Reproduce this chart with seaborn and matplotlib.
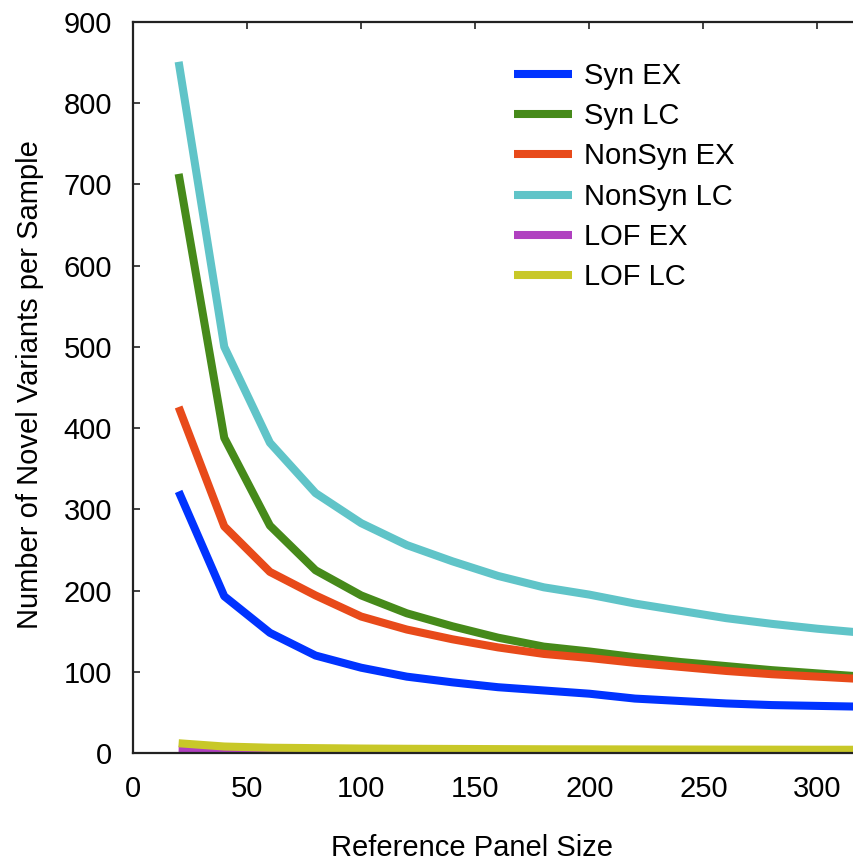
import numpy as np
import pandas as pd
import matplotlib
matplotlib.use("Agg")
import matplotlib.pyplot as plt
import seaborn as sns

panel_size = [20, 40, 60, 80, 100, 120, 140, 160, 180, 200, 220, 240, 260, 280, 300, 320]
syn_ex = [322, 193, 148, 120, 105, 94, 87, 81, 77, 73, 67, 64, 61, 59, 58, 57]
syn_lc = [713, 388, 280, 225, 194, 172, 156, 142, 131, 125, 118, 112, 107, 102, 98, 94]
nonsyn_ex = [426, 279, 223, 194, 168, 152, 140, 130, 122, 117, 111, 106, 101, 97, 94, 91]
nonsyn_lc = [851, 500, 382, 320, 283, 256, 236, 218, 204, 195, 184, 175, 166, 159, 153, 148]
lof_ex = [4, 2.5, 1.8, 1.5, 1.3, 1.2, 1.1, 1.0, 1.0, 1.0, 1.0, 1.0, 1.0, 1.0, 1.0, 1.0]
lof_lc = [12, 8, 6.5, 6, 5.5, 5.2, 5, 4.8, 4.6, 4.5, 4.4, 4.3, 4.2, 4.1, 4.0, 4.0]

series_names = ["Syn EX", "Syn LC", "NonSyn EX", "NonSyn LC", "LOF EX", "LOF LC"]
series_values = [syn_ex, syn_lc, nonsyn_ex, nonsyn_lc, lof_ex, lof_lc]
colors = ["#0033FF", "#468A1A", "#E84A1A", "#60C4C8", "#B040C0", "#C8C828"]

x_ticks = [0, 50, 100, 150, 200, 250, 300]
y_ticks = [0, 100, 200, 300, 400, 500, 600, 700, 800, 900]

rows = []
for name, vals in zip(series_names, series_values):
    for xv, yv in zip(panel_size, vals):
        rows.append({"size": xv, "value": yv, "series": name})
df = pd.DataFrame(rows)

sns.set_style("white")
plt.rcParams["font.family"] = ["Liberation Sans", "DejaVu Sans"]
plt.rcParams["text.color"] = "black"
plt.rcParams["axes.labelcolor"] = "black"
plt.rcParams["xtick.color"] = "black"
plt.rcParams["ytick.color"] = "black"

W, H = 854, 864
fig = plt.figure(figsize=(W / 100, H / 100), dpi=100)
ax = fig.add_axes([133 / W, 1 - 753 / H, (W - 133) / W, (753 - 22) / H])

sns.lineplot(data=df, x="size", y="value", hue="series", hue_order=series_names,
             palette=colors, linewidth=5.8, ax=ax, sort=False, estimator=None,
             legend=True, solid_capstyle="butt")

ax.set_xlim(0, 316)
ax.set_ylim(0, 900)
ax.set_xticks(x_ticks)
ax.set_yticks(y_ticks)
fs = 21
ax.tick_params(axis="both", direction="in", length=5, width=1.2, color="#222222",
               labelsize=fs, labelcolor="black", top=True, bottom=True, left=True, right=False)
ax.tick_params(axis="x", pad=16)
ax.tick_params(axis="y", pad=15)

for side in ["left", "top", "bottom"]:
    ax.spines[side].set_linewidth(1.6)
    ax.spines[side].set_color("#222222")
ax.spines["right"].set_visible(False)

ax.set_xlabel("Reference Panel Size", fontsize=fs, color="black")
ax.set_ylabel("Number of Novel Variants per Sample", fontsize=fs, color="black")
ax.xaxis.set_label_coords((472 - 133) / (W - 133), (753 - 848) / (753 - 22))
ax.xaxis.label.set_va("center")
ax.yaxis.set_label_coords((30 - 133) / (W - 133), (753 - 385) / (753 - 22))
ax.yaxis.label.set_va("center")

handles, labels = ax.get_legend_handles_labels()
leg = ax.legend(handles, labels, loc="upper left",
                bbox_to_anchor=(514 / W, 1 - 62 / H), bbox_transform=fig.transFigure,
                frameon=False, fontsize=fs, handlelength=2.0, handletextpad=0.4,
                labelspacing=0.42, borderpad=0, borderaxespad=0)
for lh in leg.get_lines():
    lh.set_linewidth(5.8)
    lh.set_solid_capstyle("butt")
for t in leg.get_texts():
    t.set_color("black")

fig.savefig("out.png", dpi=100)
